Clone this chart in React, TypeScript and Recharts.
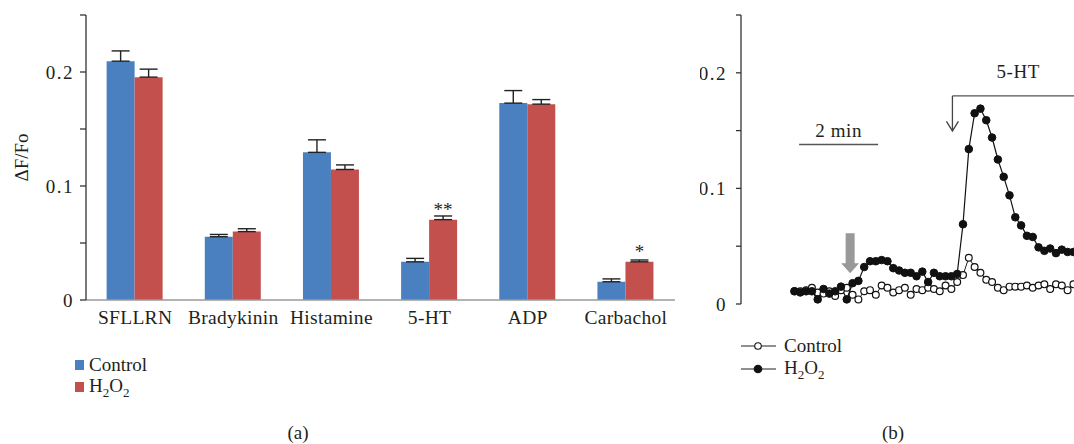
import React from 'react';
import {
  BarChart, Bar, XAxis, YAxis, ErrorBar, LabelList, LineChart, Line,
  ReferenceLine, ReferenceDot, Legend,
} from 'recharts';

// ---------- Panel (a) data ----------
const categories = ['SFLLRN', 'Bradykinin', 'Histamine', '5-HT', 'ADP', 'Carbachol'];
const controlMeans = [0.2095, 0.0555, 0.1295, 0.0335, 0.1727, 0.016];
const controlErrors = [0.009, 0.002, 0.011, 0.003, 0.011, 0.0025];
const h2o2Means = [0.1955, 0.06, 0.1145, 0.0705, 0.1718, 0.0335];
const h2o2Errors = [0.007, 0.0025, 0.004, 0.0032, 0.004, 0.0016];
const significance = ['', '', '', '**', '', '*'];
const seriesNames = ['Control', 'H2O2'];
const barColors = ['#4a7fc0', '#c4504e'];

// ---------- shared axis ticks ----------
const yTicks = [0, 0.05, 0.1, 0.15, 0.2, 0.25];
const labeledTicks = [0, 0.1, 0.2];

// ---------- Panel (b) data (one value per sample) ----------
const traceControl = [
  0.011, 0.011, 0.012, 0.014, 0.010, 0.009, 0.011, 0.007, 0.012, 0.014,
  0.008, 0.004, 0.011, 0.012, 0.008, 0.016, 0.014, 0.010, 0.012, 0.014,
  0.008, 0.013, 0.012, 0.014, 0.013, 0.011, 0.016, 0.013, 0.019,
  0.025, 0.040, 0.032, 0.027, 0.021, 0.019, 0.014, 0.012, 0.015, 0.015,
  0.015, 0.016, 0.014, 0.016, 0.017, 0.013, 0.017, 0.016, 0.012, 0.017,
];
const traceH2O2 = [
  0.011, 0.010, 0.011, 0.011, 0.004, 0.013, 0.009, 0.011, 0.015, 0.004,
  0.018, 0.020, 0.032, 0.037, 0.037, 0.038, 0.037, 0.031, 0.029, 0.027,
  0.027, 0.024, 0.028, 0.019, 0.027, 0.024, 0.024, 0.024, 0.026,
  0.069, 0.134, 0.165, 0.169, 0.159, 0.144, 0.125, 0.110, 0.094, 0.075,
  0.068, 0.059, 0.058, 0.049, 0.046, 0.048, 0.044, 0.047, 0.045, 0.045,
];
const sampleDomain = [-9.2, 48.1];

// annotations of panel (b), in data units (sample index, ΔF/Fo)
const scaleBar = { from: 0.8, to: 14.4, y: 0.138, label: '2 min' };
const stimulus = { x: 27.18, y: 0.18, tip: 0.1497, labelX: 38.5, label: '5-HT' };
const pretreatArrow = { x: 9.58, y: 0.0266 };

const FONT = '"Liberation Serif", "Times New Roman", serif';
const TEXT = '#231f20';

const barData = categories.map((c, i) => ({
  category: c,
  control: controlMeans[i],
  controlErr: [0, controlErrors[i]],
  h2o2: h2o2Means[i],
  h2o2Err: [0, h2o2Errors[i]],
  sig: significance[i],
}));

const traceData = traceH2O2.map((v, i) => ({
  sample: i,
  control: traceControl[i],
  h2o2: v,
}));

const yTickFormatter = (v: number) =>
  labeledTicks.some((t) => Math.abs(t - v) < 1e-9) ? String(v) : '';

const renderName = (name: string) => {
  const parts = name.split(/(\d)/).filter((s) => s !== '');
  return parts.map((p, i) =>
    /\d/.test(p) ? (
      <span key={i} style={{ fontSize: 13, position: 'relative', top: 5 }}>{p}</span>
    ) : (
      <span key={i}>{p}</span>
    ),
  );
};

const BarLegend = () => (
  <div style={{ fontFamily: FONT, fontSize: 19, color: TEXT }}>
    {seriesNames.map((name, i) => (
      <div key={name} style={{ display: 'flex', alignItems: 'center', height: 22, lineHeight: '22px' }}>
        <span style={{ width: 9, height: 10, background: barColors[i], marginRight: 5, display: 'inline-block' }} />
        <span>{renderName(name)}</span>
      </div>
    ))}
  </div>
);

const LineLegend = () => (
  <div style={{ fontFamily: FONT, fontSize: 19, color: TEXT }}>
    {seriesNames.map((name, i) => (
      <div key={name} style={{ display: 'flex', alignItems: 'center', height: 23, lineHeight: '23px' }}>
        <svg width={36} height={12} style={{ marginRight: 7 }}>
          <line x1={0} y1={6} x2={35} y2={6} stroke="#222" strokeWidth={1.1} />
          <circle cx={17} cy={6} r={i === 0 ? 3.3 : 3.8} fill={i === 0 ? '#fff' : '#111'} stroke="#111" strokeWidth={1.1} />
        </svg>
        <span>{renderName(name)}</span>
      </div>
    ))}
  </div>
);

const GrayArrow = (p: any) => {
  const { cx, cy } = p;
  const pts = [[0, 0], [-9, -10], [-4.5, -10], [-4.5, -40], [4.5, -40], [4.5, -10], [9, -10]]
    .map(([dx, dy]) => `${cx + dx},${cy + dy}`)
    .join(' ');
  return <polygon points={pts} fill="#999" />;
};

const OpenArrowHead = (p: any) => {
  const { cx, cy } = p;
  return (
    <polyline
      points={`${cx - 6},${cy - 9.5} ${cx},${cy} ${cx + 6},${cy - 9.5}`}
      fill="none"
      stroke="#444"
      strokeWidth={1.3}
    />
  );
};

const makeTextShape = (text: string, dy: number) => (p: any) => (
  <text
    x={p.cx}
    y={p.cy + dy}
    textAnchor="middle"
    fontFamily={FONT}
    fontSize={19}
    fill={TEXT}
    letterSpacing={0.6}
  >
    {text}
  </text>
);

export default function App() {
  const tickStyle = { fontFamily: FONT, fontSize: 19, fill: TEXT, letterSpacing: 1.5 };
  return (
    <div style={{ position: 'absolute', left: 0, top: 0, width: 1074, height: 444, background: '#fff', overflow: 'hidden' }}>
      {/* Panel (a) */}
      <div style={{ position: 'absolute', left: 0, top: 0 }}>
        <BarChart
          width={700}
          height={444}
          data={barData}
          margin={{ top: 15, right: 25, bottom: 114, left: 0 }}
          barCategoryGap="21%"
          barGap={0}
        >
          <XAxis
            dataKey="category"
            height={30}
            interval={0}
            tickLine={false}
            tickSize={0}
            tickMargin={10}
            axisLine={{ stroke: '#9a9a9a', strokeWidth: 1.6 }}
            tick={{ fontFamily: FONT, fontSize: 19.5, fill: TEXT, letterSpacing: 0.3 }}
          />
          <YAxis
            width={86}
            domain={[0, 0.25]}
            ticks={yTicks}
            allowDataOverflow
            tickFormatter={yTickFormatter}
            tickSize={6}
            tickMargin={6}
            axisLine={{ stroke: '#333', strokeWidth: 1.3 }}
            tickLine={{ stroke: '#333', strokeWidth: 1.3 }}
            tick={tickStyle}
            label={{
              value: 'ΔF/Fo',
              angle: -90,
              position: 'insideLeft',
              offset: 21,
              style: { textAnchor: 'middle', fontFamily: FONT, fontSize: 19, fill: TEXT },
            }}
          />
          <Legend
            layout="vertical"
            align="center"
            verticalAlign="middle"
            content={<BarLegend />}
            wrapperStyle={{ left: 75, top: 354, width: 'auto', height: 'auto' }}
          />
          <Bar dataKey="control" name={seriesNames[0]} fill={barColors[0]} isAnimationActive={false}>
            <ErrorBar dataKey="controlErr" width={9} stroke="#222" strokeWidth={1.4} direction="y" isAnimationActive={false} />
          </Bar>
          <Bar dataKey="h2o2" name={seriesNames[1]} fill={barColors[1]} isAnimationActive={false}>
            <ErrorBar dataKey="h2o2Err" width={9} stroke="#222" strokeWidth={1.4} direction="y" isAnimationActive={false} />
            <LabelList
              dataKey="sig"
              position="top"
              offset={4}
              style={{ fontFamily: FONT, fontSize: 19, fill: TEXT }}
            />
          </Bar>
        </BarChart>
      </div>

      {/* Panel (b) */}
      <div style={{ position: 'absolute', left: 700, top: 0 }}>
        <LineChart
          width={374}
          height={444}
          data={traceData}
          margin={{ top: 15, right: 0, bottom: 140, left: 0 }}
        >
          <XAxis dataKey="sample" type="number" domain={sampleDomain} allowDataOverflow hide />
          <YAxis
            width={41}
            domain={[0, 0.25]}
            ticks={yTicks}
            allowDataOverflow
            tickFormatter={yTickFormatter}
            tickSize={5}
            tickMargin={9}
            axisLine={{ stroke: '#333', strokeWidth: 1.3 }}
            tickLine={{ stroke: '#333', strokeWidth: 1.3 }}
            tick={tickStyle}
          />
          <ReferenceLine
            segment={[{ x: scaleBar.from, y: scaleBar.y }, { x: scaleBar.to, y: scaleBar.y }]}
            stroke="#555"
            strokeWidth={1.5}
          />
          <ReferenceDot
            x={(scaleBar.from + scaleBar.to) / 2}
            y={scaleBar.y}
            r={0}
            shape={makeTextShape(scaleBar.label, -7)}
          />
          <ReferenceLine
            segment={[{ x: stimulus.x, y: stimulus.y }, { x: sampleDomain[1], y: stimulus.y }]}
            stroke="#555"
            strokeWidth={1.3}
          />
          <ReferenceLine
            segment={[{ x: stimulus.x, y: stimulus.y }, { x: stimulus.x, y: stimulus.tip }]}
            stroke="#444"
            strokeWidth={1.3}
          />
          <ReferenceDot x={stimulus.x} y={stimulus.tip} r={0} shape={OpenArrowHead} />
          <ReferenceDot x={stimulus.labelX} y={stimulus.y} r={0} shape={makeTextShape(stimulus.label, -18)} />
          <ReferenceDot x={pretreatArrow.x} y={pretreatArrow.y} r={0} shape={GrayArrow} />
          <Legend
            layout="vertical"
            align="center"
            verticalAlign="middle"
            content={<LineLegend />}
            wrapperStyle={{ left: 41, top: 334, width: 'auto', height: 'auto' }}
          />
          <Line
            dataKey="control"
            name={seriesNames[0]}
            stroke="#222"
            strokeWidth={1}
            dot={{ r: 3.4, fill: '#fff', stroke: '#111', strokeWidth: 1.2 }}
            activeDot={false}
            isAnimationActive={false}
          />
          <Line
            dataKey="h2o2"
            name={seriesNames[1]}
            stroke="#111"
            strokeWidth={1.2}
            dot={{ r: 3.8, fill: '#111', stroke: '#111', strokeWidth: 1 }}
            activeDot={false}
            isAnimationActive={false}
          />
        </LineChart>
      </div>

      {/* panel captions */}
      <div style={{ position: 'absolute', left: 248, top: 423, width: 100, textAlign: 'center', fontFamily: FONT, fontSize: 19, lineHeight: '19px', color: TEXT }}>(a)</div>
      <div style={{ position: 'absolute', left: 843, top: 423, width: 100, textAlign: 'center', fontFamily: FONT, fontSize: 19, lineHeight: '19px', color: TEXT }}>(b)</div>
    </div>
  );
}
